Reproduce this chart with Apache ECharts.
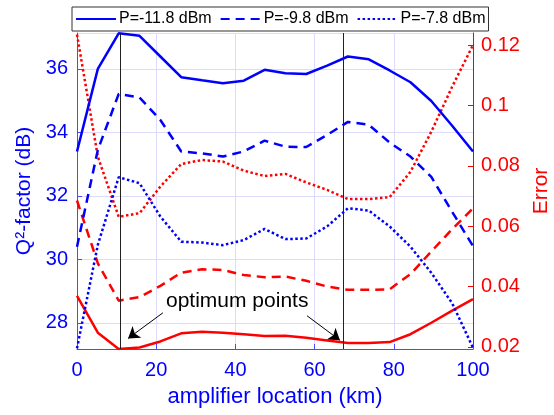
<!DOCTYPE html>
<html>
<head>
<meta charset="utf-8">
<script src="https://cdn.jsdelivr.net/npm/echarts@6/dist/echarts.min.js"></script>
<style>
  html, body { margin: 0; padding: 0; background: #fff; }
  #chart { width: 554px; height: 415px; }
</style>
</head>
<body>
<div id="chart"></div>
<script>
// amplifier location (km)
const locationKm = [0, 5.26, 10.53, 15.79, 21.05, 26.32, 31.58, 36.84, 42.11, 47.37,
                    52.63, 57.89, 63.16, 68.42, 73.68, 78.95, 84.21, 89.47, 94.74, 100];

// Q^2-factor (dB), left axis
const qP118 = [33.4, 36.0, 37.12, 37.04, 36.39, 35.74, 35.64, 35.55, 35.63, 35.97,
               35.86, 35.84, 36.1, 36.39, 36.3, 35.95, 35.58, 34.99, 34.21, 33.4];
const qP98  = [30.4, 33.45, 35.21, 35.1, 34.39, 33.4, 33.34, 33.24, 33.4, 33.74,
               33.55, 33.54, 33.92, 34.33, 34.24, 33.68, 33.24, 32.6, 31.5, 30.42];
const qP78  = [27.2, 30.46, 32.59, 32.4, 31.35, 30.56, 30.53, 30.45, 30.61, 30.96,
               30.64, 30.66, 31.04, 31.61, 31.54, 31.04, 30.4, 29.58, 28.62, 27.22];

// Error, right axis
const errP118 = [0.0369, 0.0247, 0.0193, 0.0198, 0.0218, 0.0245, 0.025, 0.0247, 0.0242, 0.0236,
                 0.0237, 0.023, 0.0221, 0.0213, 0.0213, 0.0216, 0.0242, 0.028, 0.032, 0.0358];
const errP98  = [0.0685, 0.0477, 0.0353, 0.0365, 0.0402, 0.0446, 0.0457, 0.0455, 0.0438, 0.0431,
                 0.0433, 0.0419, 0.04, 0.0389, 0.0389, 0.0391, 0.0441, 0.0516, 0.059, 0.0659];
const errP78  = [0.1235, 0.083, 0.0631, 0.0643, 0.0731, 0.0806, 0.0819, 0.0814, 0.0784, 0.0766,
                 0.0773, 0.0745, 0.072, 0.069, 0.069, 0.0696, 0.078, 0.0913, 0.1062, 0.12];

const legendNames = ['P=-11.8 dBm', 'P=-9.8 dBm', 'P=-7.8 dBm'];
const optimumKm = [10.9, 67.2];
// arrows: [from, to] in (km, error)
const arrows = [
  [[21.7, 0.0313], [12.9, 0.0228]],
  [[58.1, 0.0303], [66.4, 0.0222]]
];

const FONT = 'Liberation Sans';
const BLUE = '#0000ff';
const RED = '#ff0000';

const pairs = ys => locationKm.map((x, i) => [x, ys[i]]);

const chart = echarts.init(document.getElementById('chart'));

const lineSeries = (name, ys, color, dash, yIdx) => ({
  name: name,
  type: 'line',
  yAxisIndex: yIdx,
  data: pairs(ys),
  symbol: 'none',
  lineStyle: { color: color, width: 2.5, type: dash },
  itemStyle: { color: color },
  animation: false
});

const s1 = lineSeries(legendNames[0], qP118, BLUE, 'solid', 0);
s1.markLine = {
  silent: true,
  symbol: 'none',
  label: { show: false },
  lineStyle: { color: '#222', width: 1, type: 'solid' },
  data: optimumKm.map(x => ({ xAxis: x }))
};

const e1 = lineSeries('err1', errP118, RED, 'solid', 1);
e1.markLine = {
  silent: true,
  symbol: ['none', 'arrow'],
  symbolSize: 11,
  label: { show: false },
  lineStyle: { color: '#000', width: 1, type: 'solid' },
  itemStyle: { color: '#000' },
  data: arrows.map(a => [{ coord: a[0] }, { coord: a[1] }])
};

chart.setOption({
  animation: false,
  textStyle: { fontFamily: FONT },
  grid: { left: 77, right: 81, top: 33, bottom: 66, containLabel: false, outerBoundsMode: 'none' },
  legend: {
    data: legendNames,
    left: 72,
    top: 7,
    itemWidth: 40,
    itemHeight: 14,
    itemGap: 8,
    padding: [4, 3],
    backgroundColor: '#fff',
    borderColor: '#333',
    borderWidth: 1,
    borderRadius: 0,
    itemStyle: { opacity: 0 },
    textStyle: { fontFamily: FONT, fontSize: 16, color: '#000', padding: [0, 0, 0, -2] },
    z: 10
  },
  xAxis: {
    type: 'value',
    min: 0,
    max: 100,
    interval: 20,
    name: 'amplifier location (km)',
    nameLocation: 'middle',
    nameGap: 37,
    nameTextStyle: { color: BLUE, fontSize: 22, fontFamily: FONT },
    axisLine: { lineStyle: { color: '#4a4aff', width: 1 } },
    axisTick: { inside: true, length: 5, lineStyle: { color: '#4a4aff' } },
    axisLabel: { color: BLUE, fontSize: 20, margin: 11, fontFamily: FONT },
    splitLine: { show: true, lineStyle: { color: '#dcdcfa', width: 1 } }
  },
  yAxis: [
    {
      type: 'value',
      min: 27.18,
      max: 37.13,
      splitNumber: 5,
      name: 'Q²-factor (dB)',
      nameLocation: 'middle',
      nameGap: 37,
      nameTextStyle: { color: BLUE, fontSize: 21, fontFamily: FONT },
      axisLine: { show: true, lineStyle: { color: '#4a4aff', width: 1 } },
      axisTick: { show: true, inside: true, length: 5, lineStyle: { color: '#4a4aff' } },
      axisLabel: { color: BLUE, fontSize: 20, margin: 9, fontFamily: FONT, showMinLabel: false, showMaxLabel: false },
      splitLine: { show: true, lineStyle: { color: '#dcdcfa', width: 1 } }
    },
    {
      type: 'value',
      min: 0.0193,
      max: 0.124,
      splitNumber: 5,
      position: 'right',
      name: 'Error',
      nameLocation: 'middle',
      nameGap: 53,
      nameRotate: 90,
      nameTextStyle: { color: RED, fontSize: 21, fontFamily: FONT },
      axisLine: { show: true, lineStyle: { color: RED, width: 1 } },
      axisTick: { show: true, inside: true, length: 5, lineStyle: { color: RED } },
      axisLabel: { color: RED, fontSize: 20, margin: 8, fontFamily: FONT, showMinLabel: false, showMaxLabel: false },
      splitLine: { show: false }
    }
  ],
  graphic: [
    {
      type: 'text',
      left: 166,
      top: 291,
      z: 20,
      style: { text: 'optimum points', font: '21px "Liberation Sans"', fill: '#000' }
    }
  ],
  series: [
    e1,
    lineSeries('err2', errP98, RED, [9, 6], 1),
    lineSeries('err3', errP78, RED, [2.5, 2.5], 1),
    s1,
    lineSeries(legendNames[1], qP98, BLUE, [9, 6], 0),
    lineSeries(legendNames[2], qP78, BLUE, [2.5, 2.5], 0)
  ]
});
</script>
</body>
</html>
